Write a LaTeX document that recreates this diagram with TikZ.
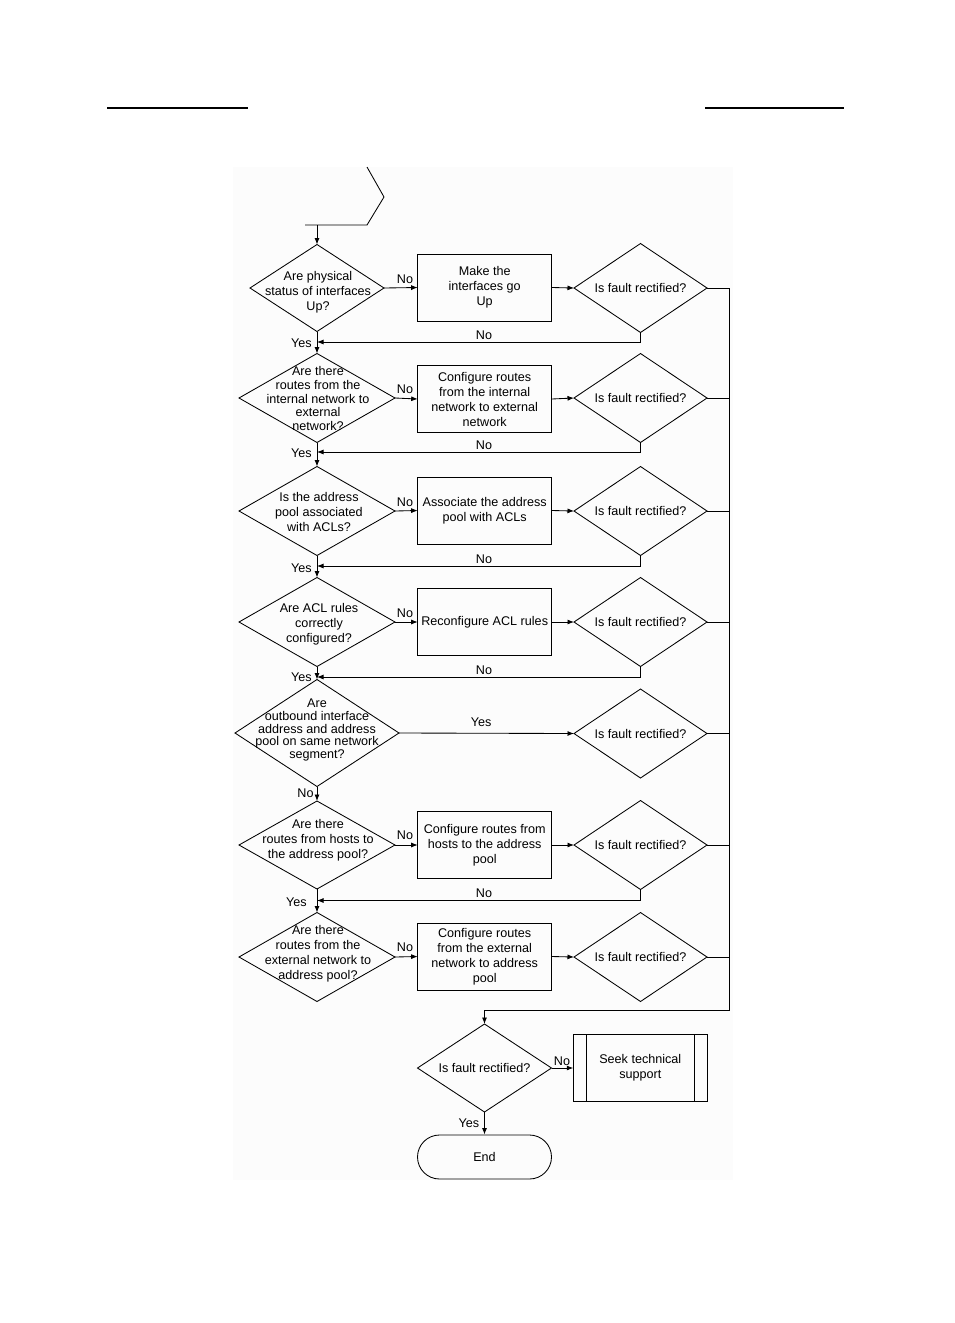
\documentclass[tikz,border=0pt]{standalone}
\usepackage{fontspec}
\setmainfont{Liberation Sans}
\usetikzlibrary{shapes.geometric,arrows.meta,calc}
\definecolor{bgc}{RGB}{252,252,252}
\begin{document}
\begin{tikzpicture}[x=1pt,y=-1pt,
  line width=0.85pt,
  dia/.style={draw, shape=diamond, inner sep=0pt, outer sep=0pt, minimum width=156pt, minimum height=89pt},
  rdia/.style={dia, minimum width=133pt, minimum height=89pt},
  txt/.style={font=\fontsize{12.6}{15}\selectfont, align=center, inner sep=0pt},
  box/.style={draw, rectangle, inner sep=0pt, outer sep=0pt, minimum width=134pt, minimum height=67pt, txt},
  lab/.style={font=\fontsize{12.6}{15}\selectfont, inner sep=1pt},
  arr/.style={-{Latex[length=6.5pt,width=5pt]}},
]
\fill[bgc] (233,167) rectangle (733,1180);
\useasboundingbox (0,0) rectangle (954,1323);

% header rules
\draw[line width=1.2pt] (107,108) -- (248,108);
\draw[line width=1.2pt] (705,108) -- (844,108);

% start connector (off-page)
\coordinate (s0) at (367,167);
\coordinate (s1) at (384,197);
\coordinate (s2) at (367,225);
\coordinate (s3) at (305,225);
\coordinate (s4) at (317,225);
\draw (s0) -- (s1) -- (s2) -- (s3);

% left decisions
\node[dia, minimum width=134pt, minimum height=87pt] (d1) at (317,288) {};
\node[txt] (d1t) at (318,292) {Are physical\\status of interfaces\\Up?};
\node[dia] (d2) at (317,398) {};
\node[txt, font=\fontsize{12.6}{13.7}\selectfont] (d2t) at (318,398.5) {Are there\\routes from the\\internal network to\\external\\network?};
\node[dia] (d3) at (317,511) {};
\node[txt] (d3t) at (319,512) {Is the address\\pool associated\\with ACLs?};
\node[dia] (d4) at (317,622) {};
\node[txt] (d4t) at (319,624) {Are ACL rules\\correctly\\configured?};
\node[dia, minimum width=164pt, minimum height=107pt] (d5) at (317,733) {};
\node[txt, font=\fontsize{12.6}{12.6}\selectfont] (d5t) at (317,730) {Are\\outbound interface\\address and address\\pool on same network\\segment?};
\node[dia, minimum height=88pt] (d6) at (317,845) {};
\node[txt] (d6t) at (318,840.5) {Are there\\routes from hosts to\\the address pool?};
\node[dia] (d7) at (317,957) {};
\node[txt] (d7t) at (318,953.5) {Are there\\routes from the\\external network to\\address pool?};

% action boxes
\node[box] (b1) at (484.7,287.5) {Make the\\interfaces go\\Up};
\node[box] (b2) at (484.7,399) {Configure routes\\from the internal\\network to external\\network};
\node[box] (b3) at (484.7,510.5) {Associate the address\\pool with ACLs};
\node[box] (b4) at (484.7,622) {Reconfigure ACL rules};
\node[box] (b6) at (484.7,845) {Configure routes from\\hosts to the address\\pool};
\node[box] (b7) at (484.7,956.5) {Configure routes\\from the external\\network to address\\pool};

% right decisions
\foreach \n/\yy in {1/288,2/398,3/511,4/622,5/733.5,6/845,7/957}{
  \node[rdia] (r\n) at (640.5,\yy) {};
  \node[txt] (r\n t) at (640.5,\yy) {Is fault rectified?};
}

% final decision, seek, end
\node[dia, minimum width=134pt, minimum height=88pt] (df) at (484.5,1068) {};
\node[txt] (dft) at (484.5,1068) {Is fault rectified?};
\node[box, minimum height=67.5pt] (seek) at (640.3,1068) {Seek technical\\support};
\draw ([xshift=13.3pt]seek.north west) -- ([xshift=13.3pt]seek.south west);
\draw ([xshift=-13.3pt]seek.north east) -- ([xshift=-13.3pt]seek.south east);
\node[draw, rounded corners=22pt, minimum width=134pt, minimum height=44pt, inner sep=0pt, txt] (endn) at (484.5,1157) {End};

% main vertical flow
\coordinate (j1) at (317,342);
\coordinate (j2) at (317,452);
\coordinate (j3) at (317,566);
\coordinate (j4) at (317,677);
\coordinate (j6) at (317,900.5);
\draw[arr] (s4) -- (d1.north);
\draw[arr] (d1.south) -- (d2.north);
\draw[arr] (d2.south) -- (d3.north);
\draw[arr] (d3.south) -- (d4.north);
\draw[arr] (d4.south) -- (d5.north);
\draw[arr] (d5.south) -- (d6.north);
\draw[arr] (d6.south) -- (d7.north);
\node[lab, anchor=east] (y1) at (313,343) {Yes};
\node[lab, anchor=east] (y2) at (313,453) {Yes};
\node[lab, anchor=east] (y3) at (313,568) {Yes};
\node[lab, anchor=east] (y4) at (313,677) {Yes};
\node[lab, anchor=east] (y5) at (315,793) {No};
\node[lab, anchor=east] (y6) at (308,902) {Yes};

% decision -> action
\draw[arr] (d1.east) -- (b1.west);
\draw[arr] (d2.east) -- (b2.west);
\draw[arr] (d3.east) -- (b3.west);
\draw[arr] (d4.east) -- (b4.west);
\draw[arr] (d6.east) -- (b6.west);
\draw[arr] (d7.east) -- (b7.west);
\node[lab, anchor=south] (n1) at (405,285) {No};
\node[lab, anchor=south] (n2) at (405,395) {No};
\node[lab, anchor=south] (n3) at (405,508) {No};
\node[lab, anchor=south] (n4) at (405,619) {No};
\node[lab, anchor=south] (n6) at (405,841) {No};
\node[lab, anchor=south] (n7) at (405,953) {No};

% action -> check
\draw[arr] (b1.east) -- (r1.west);
\draw[arr] (b2.east) -- (r2.west);
\draw[arr] (b3.east) -- (r3.west);
\draw[arr] (b4.east) -- (r4.west);
\draw[arr] (b6.east) -- (r6.west);
\draw[arr] (b7.east) -- (r7.west);
\draw[arr] (d5.east) -- node[lab, above=5pt, pos=0.47] (yy5) {Yes} (r5.west);

% loops back (No)
\draw[arr] (r1.south) |- (j1);
\draw[arr] (r2.south) |- (j2);
\draw[arr] (r3.south) |- (j3);
\draw[arr] (r4.south) |- (j4);
\draw[arr] (r6.south) |- (j6);
\node[lab, anchor=south] (l1) at (484,341) {No};
\node[lab, anchor=south] (l2) at (484,451) {No};
\node[lab, anchor=south] (l3) at (484,565) {No};
\node[lab, anchor=south] (l4) at (484,676) {No};
\node[lab, anchor=south] (l6) at (484,899.5) {No};

% right trunk
\coordinate (t1) at (729,288);
\coordinate (tb) at (729,1010);
\coordinate (tc) at (484.5,1010);
\draw (r1.east) -- (t1) -- (tb) -- (tc);
\foreach \n in {2,3,4,5,6,7}{\draw (r\n.east) -- (r\n.east -| t1);}
\draw[arr] (tc) -- (df.north);

% final
\draw[arr] (df.east) -- (seek.west);
\node[lab, anchor=south] (nf) at (562,1067) {No};
\draw[arr] (df.south) -- node[lab, left=4pt] (yf) {Yes} (endn.north);
\end{tikzpicture}
\end{document}
